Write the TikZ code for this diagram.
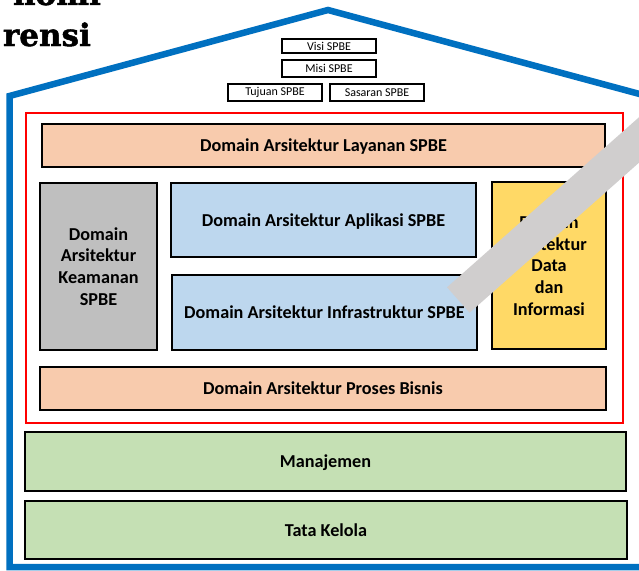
\documentclass[tikz,border=0pt]{standalone}
\usepackage{fontspec}
\setmainfont{Carlito}
\newfontfamily\titlefont[FakeBold=1.6]{DejaVu Serif Bold}
\definecolor{housebl}{HTML}{0070C0}
\definecolor{peach}{HTML}{F8CBAD}
\definecolor{lblue}{HTML}{BDD7EE}
\definecolor{lgold}{HTML}{FFD966}
\definecolor{lgrey}{HTML}{BFBFBF}
\definecolor{lgreen}{HTML}{C5E0B4}
\definecolor{bandgray}{HTML}{D0CECE}
\begin{document}
\begin{tikzpicture}[x=1pt,y=-1pt,
  box/.style={draw=black, line width=2.6pt, inner sep=0pt, align=center,
    font=\fontsize{18.2}{21.7}\selectfont\bfseries},
  onebox/.style={box, text depth=0pt},
  smallbox/.style={draw=black, line width=1.3pt, inner sep=0pt,
    minimum width=94pt, minimum height=16pt, font=\fontsize{12}{13}\selectfont},
  titletext/.style={inner sep=0pt, anchor=base east, font=\titlefont\fontsize{31}{31}\selectfont}]
\useasboundingbox (0,0) rectangle (639,570);
\fill[white] (0,0) rectangle (639,570);
% title fragments
\node[titletext] (t1) at (101,5) {nomi};
\node[titletext] (t2) at (91,46) {rensi};
% house outline
\draw[housebl, line width=6.5pt, line join=miter] (9.5,567) -- (9.5,96) -- (328,10) -- (647,96) -- (647,567) -- cycle;
% red frame
\draw[red, line width=2pt] (26,113) rectangle (623,423);
% top small boxes
\node[smallbox, minimum height=14pt] (visi) at (329,46) {Visi SPBE};
\node[smallbox, minimum height=17pt] (misi) at (329,68.5) {Misi SPBE};
\node[smallbox, minimum height=17pt] (tujuan) at (275,92.5) {Tujuan SPBE};
\node[smallbox, minimum height=17pt] (sasaran) at (377,92.5) {Sasaran SPBE};
% domain boxes
\node[onebox, fill=peach, minimum width=563pt, minimum height=43pt] (lay) at (323.5,145.5) {Domain Arsitektur Layanan SPBE};
\node[box, fill=lgrey, minimum width=117pt, minimum height=167pt] (keam) at (98.5,266.5) {Domain\\Arsitektur\\Keamanan\\SPBE};
\node[onebox, fill=lblue, minimum width=305pt, minimum height=74pt] (apl) at (323.5,220) {Domain Arsitektur Aplikasi SPBE};
\node[onebox, fill=lblue, minimum width=305pt, minimum height=75pt] (inf) at (324.5,312.5) {Domain Arsitektur Infrastruktur SPBE};
\node[box, fill=lgold, minimum width=114pt, minimum height=167pt] (data) at (549,265.5) {Domain\\Arsitektur\\Data\\dan\\Informasi};
\node[onebox, fill=peach, minimum width=566pt, minimum height=43pt] (pros) at (323,388.5) {Domain Arsitektur Proses Bisnis};
\node[onebox, fill=lgreen, minimum width=601pt, minimum height=59pt] (man) at (325.5,461.5) {Manajemen};
\node[onebox, fill=lgreen, minimum width=602pt, minimum height=58pt] (tata) at (326,530) {Tata Kelola};
% grey diagonal band
\draw[bandgray, line width=34pt] (458.3,300) -- (683,101);
\end{tikzpicture}
\end{document}
